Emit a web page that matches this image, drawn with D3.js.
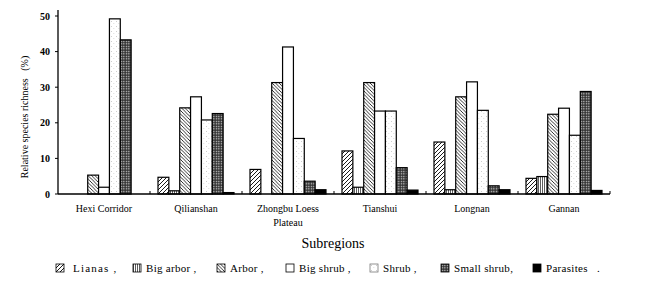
<!DOCTYPE html>
<html>
<head>
<meta charset="utf-8">
<script src="https://cdn.jsdelivr.net/npm/d3@7"></script>
<style>
  body { margin: 0; background: #fff; }
  svg { display: block; }
</style>
</head>
<body>
<div id="chart"></div>
<script>
// ---- data ----
var regions = ["Hexi Corridor", "Qilianshan", "Zhongbu Loess Plateau", "Tianshui", "Longnan", "Gannan"];
var groups = ["Lianas", "Big arbor", "Arbor", "Big shrub", "Shrub", "Small shrub", "Parasites"];

var lianas     = [0,    4.7,  6.9,  12.1, 14.6, 4.4];
var bigArbor   = [0,    0.9,  0,    1.9,  1.2,  4.9];
var arbor      = [5.3,  24.2, 31.3, 31.3, 27.3, 22.4];
var bigShrub   = [1.9,  27.3, 41.3, 23.3, 31.5, 24.1];
var shrub      = [49.2, 20.8, 15.6, 23.3, 23.5, 16.5];
var smallShrub = [43.3, 22.6, 3.6,  7.4,  2.3,  28.8];
var parasites  = [0,    0.4,  1.2,  1.1,  1.2,  1.0];

var yTicks = [0, 10, 20, 30, 40, 50];

var series = [lianas, bigArbor, arbor, bigShrub, shrub, smallShrub, parasites];

// ---- layout ----
var W = 649, H = 292;
var mLeft = 58, mRight = 610, mTop = 16, mBase = 194;

var svg = d3.select("#chart").append("svg")
  .attr("width", W)
  .attr("height", H)
  .style("font-family", "'Liberation Serif', 'Times New Roman', serif");

// fill patterns
var defs = svg.append("defs");

function pat(id, w, h) {
  return defs.append("pattern")
    .attr("id", id)
    .attr("patternUnits", "userSpaceOnUse")
    .attr("width", w).attr("height", h);
}

var p1 = pat("p-lianas", 4, 4);
p1.append("rect").attr("width", 4).attr("height", 4).attr("fill", "#fff");
p1.append("path").attr("d", "M-1,1 l2,-2 M0,4 l4,-4 M3,5 l2,-2")
  .attr("stroke", "#000").attr("stroke-width", 0.9);

var p2 = pat("p-bigarbor", 2, 4);
p2.append("rect").attr("width", 2).attr("height", 4).attr("fill", "#fff");
p2.append("line").attr("x1", 0.5).attr("x2", 0.5).attr("y1", 0).attr("y2", 4)
  .attr("stroke", "#333").attr("stroke-width", 0.8);

var p3 = pat("p-arbor", 3.5, 3.5);
p3.append("rect").attr("width", 3.5).attr("height", 3.5).attr("fill", "#fff");
p3.append("path").attr("d", "M-1,2.5 l2,2 M0,0 l3.5,3.5 M2.5,-1 l2,2")
  .attr("stroke", "#000").attr("stroke-width", 0.8);

var p5 = pat("p-shrub", 5, 5);
p5.append("rect").attr("width", 5).attr("height", 5).attr("fill", "#fff");
p5.append("rect").attr("x", 1).attr("y", 1).attr("width", 0.7).attr("height", 0.7).attr("fill", "#999");
p5.append("rect").attr("x", 3.5).attr("y", 3).attr("width", 0.7).attr("height", 0.7).attr("fill", "#bbb");

var p6 = pat("p-smallshrub", 2.5, 2.5);
p6.append("rect").attr("width", 2.5).attr("height", 2.5).attr("fill", "#2a2a2a");
p6.append("rect").attr("x", 0.7).attr("y", 0.7).attr("width", 1.3).attr("height", 1.3).attr("fill", "#e0e0e0");

var fills = ["url(#p-lianas)", "url(#p-bigarbor)", "url(#p-arbor)", "#fff", "url(#p-shrub)", "url(#p-smallshrub)", "#000"];

// scales
var x0 = d3.scaleBand().domain(regions).range([mLeft, mRight]);
var x1 = d3.scaleBand().domain(groups).range([8, x0.bandwidth() - 8]);
var y = d3.scaleLinear().domain([0, 50]).range([mBase, mTop]);

// bars
var rows = [];
regions.forEach(function(r, i) {
  groups.forEach(function(g, j) {
    rows.push({region: r, group: g, value: series[j][i], k: j});
  });
});

svg.append("g")
  .selectAll("rect")
  .data(rows.filter(d => d.value > 0))
  .enter()
  .append("rect")
    .attr("x", d => x0(d.region) + x1(d.group))
    .attr("y", d => y(d.value))
    .attr("width", x1.bandwidth())
    .attr("height", d => y(0) - y(d.value))
    .attr("fill", d => fills[d.k])
    .attr("stroke", "#000")
    .attr("stroke-width", 1.2);

// y axis
svg.append("line")
  .attr("x1", mLeft).attr("x2", mLeft)
  .attr("y1", 10).attr("y2", mBase)
  .attr("stroke", "#000").attr("stroke-width", 1.3);

var yg = svg.append("g").selectAll("g").data(yTicks).enter().append("g");
yg.append("line")
  .attr("x1", mLeft - 3).attr("x2", mLeft)
  .attr("y1", d => y(d)).attr("y2", d => y(d))
  .attr("stroke", "#000");
yg.append("text")
  .attr("x", mLeft - 8)
  .attr("y", d => y(d))
  .attr("dy", "0.35em")
  .attr("text-anchor", "end")
  .attr("font-size", 10)
  .attr("font-weight", "bold")
  .text(d => d);

svg.append("text")
  .attr("transform", "translate(28,117) rotate(-90)")
  .attr("text-anchor", "middle")
  .attr("font-size", 10)
  .attr("xml:space", "preserve")
  .text("Relative species richness   (%)");

// x axis
svg.append("line")
  .attr("x1", mLeft).attr("x2", mRight)
  .attr("y1", mBase).attr("y2", mBase)
  .attr("stroke", "#000").attr("stroke-width", 1.3);

svg.append("g").selectAll("line")
  .data(regions.map(r => x0(r) + x0.bandwidth()))
  .enter().append("line")
    .attr("x1", d => d).attr("x2", d => d)
    .attr("y1", mBase - 3).attr("y2", mBase)
    .attr("stroke", "#000");

svg.append("g").selectAll("text")
  .data(regions)
  .enter().append("text")
    .attr("x", d => x0(d) + x0.bandwidth() / 2)
    .attr("y", 212)
    .attr("text-anchor", "middle")
    .attr("font-size", 10)
    .each(function(d) {
      var t = d3.select(this);
      var parts = d === "Zhongbu Loess Plateau" ? ["Zhongbu Loess", "Plateau"] : [d];
      parts.forEach(function(p, i) {
        t.append("tspan").attr("x", x0(d) + x0.bandwidth() / 2).attr("dy", i ? 14 : 0).text(p);
      });
    });

svg.append("text")
  .attr("x", 333)
  .attr("y", 248)
  .attr("text-anchor", "middle")
  .attr("font-size", 14)
  .text("Subregions");

// legend
var legendX = [56, 133, 217, 286, 370, 441, 533];
var legendLabels = ["Lianas ,", "Big arbor ,", "Arbor ,", "Big shrub ,", "Shrub ,", "Small shrub,", "Parasites   ."];

var lg = svg.append("g").selectAll("g")
  .data(groups)
  .enter().append("g")
    .attr("transform", (d, i) => "translate(" + legendX[i] + ",264)");

lg.append("rect")
  .attr("width", 8).attr("height", 8)
  .attr("fill", (d, i) => fills[i])
  .attr("stroke", (d, i) => i === 4 ? "#777" : "#000")
  .attr("stroke-width", 0.8);

lg.append("text")
  .attr("x", (d, i) => i === 0 ? 17 : 13)
  .attr("y", 8)
  .attr("font-size", 11)
  .attr("letter-spacing", (d, i) => i === 0 ? 1.2 : 0.3)
  .attr("xml:space", "preserve")
  .text((d, i) => legendLabels[i]);
</script>
</body>
</html>
